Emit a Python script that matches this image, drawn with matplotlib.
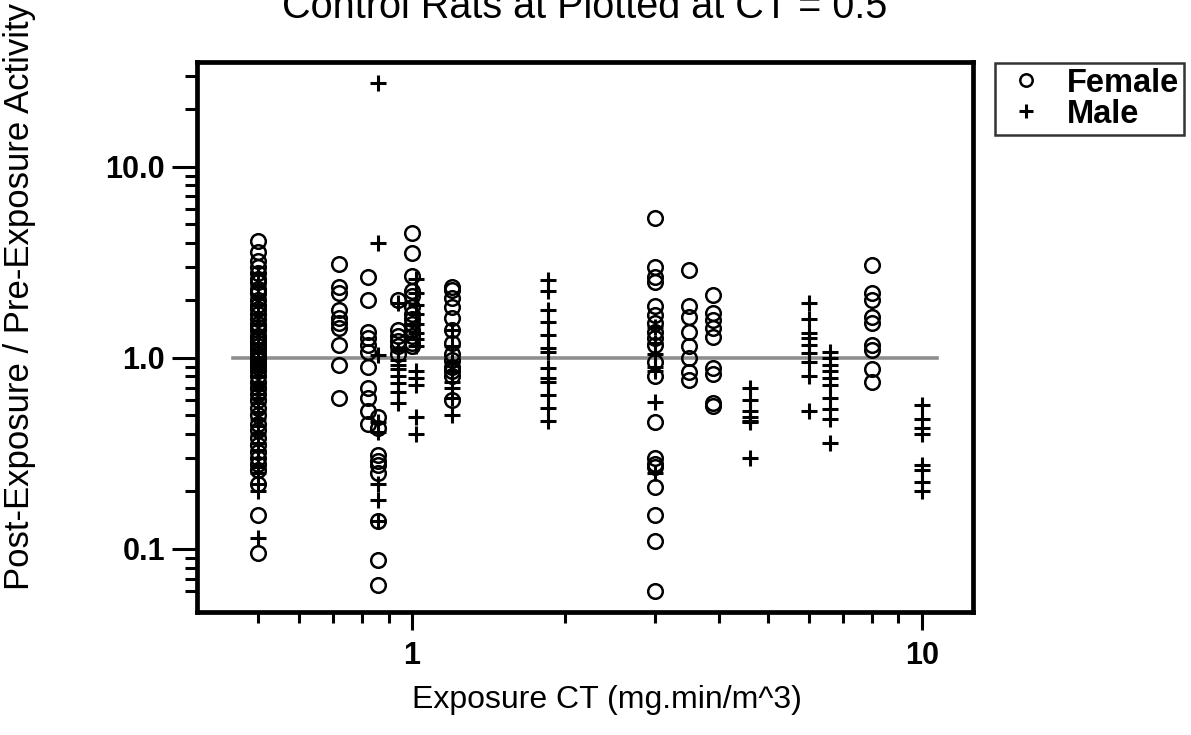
import matplotlib
matplotlib.use("Agg")
import matplotlib.pyplot as plt
from matplotlib.ticker import FixedLocator, NullFormatter
import numpy as np

plt.rcParams['font.family'] = ['Liberation Sans', 'DejaVu Sans']

# Female rats: exposure CT for each group and the activity ratios measured in it
female_ct = [0.5, 0.72, 0.82, 0.86, 0.94, 1.0, 1.2, 3.0, 3.5, 3.9, 8.0]
female_050 = [4.1, 3.6, 3.2, 3.0, 2.8, 2.6, 2.5, 2.3, 2.2, 2.0, 1.9, 1.8, 1.7, 1.6,
              1.5, 1.45, 1.4, 1.3, 1.25, 1.2, 1.15, 1.1, 1.05, 1.0, 0.97, 0.93, 0.9,
              0.85, 0.8, 0.75, 0.7, 0.65, 0.6, 0.55, 0.5, 0.45, 0.42, 0.38, 0.35,
              0.32, 0.3, 0.28, 0.26, 0.22, 0.15, 0.095]
female_072 = [3.1, 2.35, 2.2, 1.78, 1.62, 1.52, 1.44, 1.17, 0.92, 0.62]
female_082 = [2.65, 2.0, 1.37, 1.27, 1.17, 1.07, 0.9, 0.70, 0.62, 0.53, 0.45]
female_086 = [0.49, 0.43, 0.31, 0.29, 0.275, 0.25, 0.14, 0.088, 0.065]
female_094 = [2.0, 1.4, 1.3, 1.22, 1.15, 1.05]
female_100 = [4.5, 3.55, 2.7, 2.25, 2.1, 1.85, 1.7, 1.6, 1.5, 1.4, 1.3, 1.2, 1.15]
female_120 = [2.35, 2.28, 2.05, 1.85, 1.62, 1.4, 1.2, 1.05, 0.97, 0.9, 0.85, 0.8, 0.6]
female_300 = [5.4, 3.0, 2.65, 2.5, 1.87, 1.68, 1.52, 1.37, 1.27, 1.17, 0.95, 0.8,
              0.46, 0.3, 0.28, 0.27, 0.21, 0.15, 0.11, 0.06]
female_350 = [2.9, 1.87, 1.64, 1.37, 1.16, 1.0, 0.84, 0.77]
female_390 = [2.14, 1.72, 1.58, 1.43, 1.29, 0.89, 0.82, 0.58, 0.56]
female_800 = [3.05, 2.2, 2.0, 1.64, 1.52, 1.17, 1.1, 0.87, 0.75]
female_ratio = [female_050, female_072, female_082, female_086, female_094, female_100,
                female_120, female_300, female_350, female_390, female_800]

# Male rats
male_ct = [0.5, 0.86, 0.94, 1.02, 1.2, 1.85, 3.0, 4.6, 6.0, 6.6, 10.0]
male_050 = [2.8, 2.4, 2.1, 1.9, 1.7, 1.5, 1.35, 1.2, 1.1, 1.0, 0.95, 0.9, 0.85, 0.8,
            0.72, 0.68, 0.62, 0.58, 0.52, 0.48, 0.44, 0.4, 0.36, 0.33, 0.3, 0.27,
            0.25, 0.22, 0.2, 0.114]
male_086 = [27.5, 4.0, 1.04, 0.46, 0.41, 0.22, 0.18, 0.14]
male_094 = [1.95, 1.1, 0.98, 0.92, 0.87, 0.8, 0.74, 0.66, 0.58]
male_102 = [2.6, 2.2, 1.9, 1.7, 1.5, 1.35, 1.25, 1.15, 0.85, 0.79, 0.72, 0.49, 0.40]
male_120 = [1.4, 1.15, 0.95, 0.85, 0.75, 0.70, 0.62, 0.50]
male_185 = [2.56, 2.24, 1.78, 1.54, 1.32, 1.13, 1.07, 0.89, 0.79, 0.75, 0.64, 0.55, 0.47]
male_300 = [1.45, 1.2, 1.05, 0.9, 0.85, 0.59, 0.25]
male_460 = [0.70, 0.60, 0.53, 0.49, 0.47, 0.46, 0.30]
male_600 = [1.94, 1.6, 1.35, 1.27, 1.17, 1.06, 0.95, 0.8, 0.53]
male_660 = [1.08, 1.0, 0.92, 0.85, 0.79, 0.72, 0.62, 0.54, 0.48, 0.36]
male_1000 = [0.57, 0.48, 0.43, 0.40, 0.275, 0.26, 0.225, 0.2]
male_ratio = [male_050, male_086, male_094, male_102, male_120, male_185, male_300,
              male_460, male_600, male_660, male_1000]

# no-change reference line
ref_ct = [0.445, 10.7]
ref_ratio = [1.0, 1.0]


def flatten(cts, groups):
    xs, ys = [], []
    for ct, vals in zip(cts, groups):
        xs.extend([ct] * len(vals))
        ys.extend(vals)
    return np.array(xs), np.array(ys)


fx, fy = flatten(female_ct, female_ratio)
mx, my = flatten(male_ct, male_ratio)

fig = plt.figure(figsize=(11.91, 7.35), dpi=100)
ax = fig.add_axes([197 / 1191, 1 - 612 / 735, (973 - 197) / 1191, (612 - 62) / 735])

ax.plot(ref_ct, ref_ratio, color='#8e8e8e', lw=2.6, zorder=1)
ax.plot(fx, fy, linestyle='none', marker='o', ms=10.5, mfc='none', mec='black',
        mew=1.8, label='Female', zorder=2)
ax.plot(mx, my, linestyle='none', marker='+', ms=12, mec='black', mew=2.2,
        label='Male', zorder=3)

ax.set_xscale('log')
ax.set_yscale('log')
ax.set_xlim(0.379, 12.6)
ax.set_ylim(0.0468, 35.4)

ax.xaxis.set_major_locator(FixedLocator([1, 10]))
ax.xaxis.set_minor_locator(FixedLocator([0.5, 0.6, 0.7, 0.8, 0.9, 2, 3, 4, 5, 6, 7, 8, 9]))
ax.xaxis.set_minor_formatter(NullFormatter())
ax.set_xticklabels(['1', '10'])
ax.yaxis.set_major_locator(FixedLocator([0.1, 1, 10]))
ax.yaxis.set_minor_locator(FixedLocator([0.06, 0.07, 0.08, 0.09] + list(np.arange(2, 10) * 0.1)
                                        + list(np.arange(2, 10)) + [20, 30]))
ax.yaxis.set_minor_formatter(NullFormatter())
ax.set_yticklabels(['0.1', '1.0', '10.0'])

for lab in ax.get_xticklabels() + ax.get_yticklabels():
    lab.set_fontweight('bold')
    lab.set_fontsize(22)

ax.tick_params(axis='both', which='both', direction='out', width=2.2, color='black')
ax.tick_params(axis='y', which='major', length=18, pad=5)
ax.tick_params(axis='y', which='minor', length=9)
ax.tick_params(axis='x', which='major', length=13, pad=8)
ax.tick_params(axis='x', which='minor', length=8)

for sp in ax.spines.values():
    sp.set_linewidth(3.4)

fig.text(585 / 1191, 1 - 18 / 735, 'Control Rats at Plotted at CT = 0.5',
         ha='center', va='baseline', fontsize=28.5)
fig.text(607 / 1191, 1 - 700 / 735, 'Exposure CT (mg.min/m^3)',
         ha='center', va='center', fontsize=23)
fig.text(20 / 1191, 1 - 297 / 735, 'Post-Exposure / Pre-Exposure Activity',
         ha='center', va='center', rotation=90, fontsize=25)

leg = ax.legend(loc='upper left', bbox_to_anchor=(995 / 1191, 1 - 63 / 735),
                bbox_transform=fig.transFigure, frameon=True, fancybox=False,
                borderaxespad=0, markerscale=0.85, handlelength=1.6,
                handletextpad=0.45, borderpad=0.15, labelspacing=0.0,
                prop={'weight': 'bold', 'size': 23.5})
leg.get_frame().set_edgecolor('black')
leg.get_frame().set_linewidth(1.8)

fig.savefig('out.png', dpi=100)
